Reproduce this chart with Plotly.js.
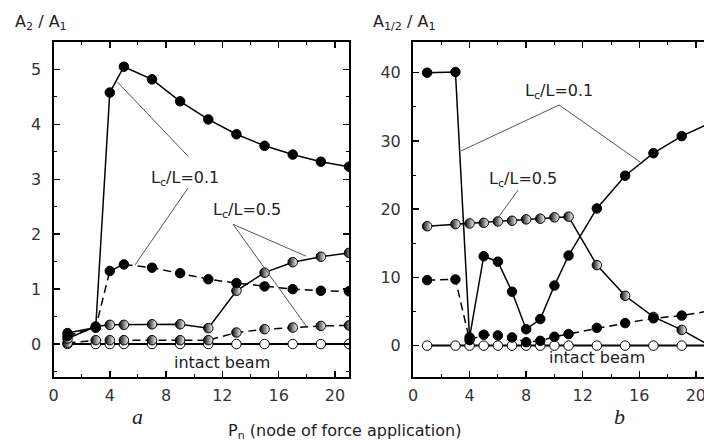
<!DOCTYPE html>
<html>
<head>
<meta charset="utf-8">
<script src="https://cdn.plot.ly/plotly-3.0.1.min.js"></script>
<style>
html,body{margin:0;padding:0;background:#fff;overflow:hidden;width:704px;height:444px;}
#chart{width:712px;height:444px;}
</style>
</head>
<body>
<div id="chart"></div>
<script>
// ---- data ----
const xA = [1, 3, 4, 5, 7, 9, 11, 13, 15, 17, 19, 21];
const a_solid01 = [0.2, 0.3, 4.58, 5.05, 4.82, 4.42, 4.09, 3.82, 3.61, 3.45, 3.32, 3.23];
const a_dash01  = [0.15, 0.3, 1.33, 1.45, 1.39, 1.29, 1.18, 1.11, 1.05, 1.0, 0.97, 0.96];
const a_solid05 = [0.1, 0.32, 0.35, 0.35, 0.36, 0.36, 0.29, 0.97, 1.3, 1.49, 1.59, 1.66];
const a_dash05  = [0.02, 0.07, 0.07, 0.07, 0.07, 0.07, 0.07, 0.21, 0.27, 0.3, 0.33, 0.34];
const a_intact  = [0, 0, 0, 0, 0, 0, 0, 0, 0, 0, 0, 0];

const xB = [1, 3, 4, 5, 6, 7, 8, 9, 10, 11, 13, 15, 17, 19, 21];
const b_solid01 = [40.0, 40.1, 1.2, 13.1, 12.3, 7.9, 2.4, 3.9, 8.8, 13.2, 20.1, 24.9, 28.2, 30.7, 32.6];
const b_dash01  = [9.6, 9.7, 0.8, 1.6, 1.5, 1.2, 0.5, 0.7, 1.3, 1.7, 2.6, 3.3, 4.0, 4.4, 5.1];
const b_solid05 = [17.5, 17.8, 17.9, 18.0, 18.2, 18.3, 18.5, 18.6, 18.8, 18.9, 11.8, 7.3, 4.2, 2.3, 0.0];
const b_intact  = [0, 0, 0, 0, 0, 0, 0, 0, 0, 0, 0, 0, 0, 0, 0];

const labelA = "A<sub>2</sub> / A<sub>1</sub>";
const labelB = "A<sub>1/2</sub> / A<sub>1</sub>";
const labelX = "P<sub>n</sub> (node of force application)";
const lab01 = "L<sub>c</sub>/L=0.1";
const lab05 = "L<sub>c</sub>/L=0.5";
const labIntact = "intact beam";

// ---- styles ----
const filled = {symbol: 'circle', size: 9.5, color: '#000', line: {color: '#000', width: 1}};
const half = {symbol: 'circle', size: 9.5, color: '#000', gradient: {type: 'horizontal', color: '#fff'}, line: {color: '#000', width: 1}};
const open = {symbol: 'circle', size: 9.5, color: '#fff', line: {color: '#000', width: 1}};
const solid = {color: '#000', width: 1.5};
const dashed = {color: '#000', width: 1.5, dash: '8px,5px'};

function tr(x, y, xa, ya, line, marker) {
  return {x: x, y: y, xaxis: xa, yaxis: ya, mode: 'lines+markers', line: line, marker: marker, hoverinfo: 'skip', showlegend: false};
}

const data = [
  tr(xA, a_intact, 'x', 'y', {color: '#000', width: 2}, open),
  tr(xA, a_dash05, 'x', 'y', dashed, half),
  tr(xA, a_solid05, 'x', 'y', solid, half),
  tr(xA, a_dash01, 'x', 'y', dashed, filled),
  tr(xA, a_solid01, 'x', 'y', solid, filled),
  tr(xB, b_intact, 'x2', 'y2', {color: '#000', width: 2}, open),
  tr(xB, b_solid05, 'x2', 'y2', solid, half),
  tr(xB, b_dash01, 'x2', 'y2', dashed, filled),
  tr(xB, b_solid01, 'x2', 'y2', solid, filled)
];

const tickFont = {family: 'DejaVu Sans, Arial, sans-serif', size: 16, color: '#333'};
function xax(domain, anchor) {
  return {domain: domain, anchor: anchor, range: [0, 21], dtick: 4, tick0: 0,
    ticks: 'inside', ticklen: 6, tickwidth: 1.5, tickcolor: '#000',
    showline: true, linewidth: 2, linecolor: '#000', mirror: 'ticks',
    showgrid: false, zeroline: false, tickfont: tickFont, ticklabelstandoff: 3,
    minor: {dtick: 2, ticks: 'inside', ticklen: 3, tickcolor: '#000', tickwidth: 1, showgrid: false}};
}
function yax(domain, anchor, range, dtick, mdtick) {
  return {domain: domain, anchor: anchor, range: range, dtick: dtick, tick0: 0,
    ticks: 'inside', ticklen: 6, tickwidth: 1.5, tickcolor: '#000',
    showline: true, linewidth: 2, linecolor: '#000', mirror: 'ticks',
    showgrid: false, zeroline: false, tickfont: tickFont, ticklabelstandoff: 7,
    minor: {dtick: mdtick, ticks: 'inside', ticklen: 3, tickcolor: '#000', tickwidth: 1, showgrid: false}};
}

const W = 712, H = 444;
const yDom = [1 - 377 / H, 1 - 42 / H];

const annFont = {family: 'DejaVu Sans, Arial, sans-serif', size: 16, color: '#222'};
const ptr = {color: '#555', width: 1};
function seg(xref, yref, x0, y0, x1, y1) {
  return {type: 'line', xref: xref, yref: yref, x0: x0, y0: y0, x1: x1, y1: y1, line: ptr, layer: 'above'};
}
function txt(xref, yref, x, y, text, font, extra) {
  return Object.assign({xref: xref, yref: yref, x: x, y: y, text: text, showarrow: false, font: font || annFont, xanchor: 'center', yanchor: 'middle'}, extra || {});
}

const layout = {
  width: W, height: H,
  margin: {l: 0, r: 0, t: 0, b: 0},
  paper_bgcolor: '#fff', plot_bgcolor: '#fff',
  xaxis: xax([53.5 / W, 349 / W], 'y'),
  yaxis: yax(yDom, 'x', [-0.6, 5.5], 1, 0.5),
  xaxis2: xax([413 / W, 710 / W], 'y2'),
  yaxis2: yax(yDom, 'x2', [-4.6, 44.5], 10, 5),
  shapes: [
    seg('x', 'y', 9.56, 3.42, 4.51, 4.78),
    seg('x', 'y', 9.56, 2.84, 5.79, 1.44),
    seg('x', 'y', 12.76, 2.18, 17.95, 1.60),
    seg('x', 'y', 12.76, 2.18, 17.95, 0.33),
    seg('x2', 'y2', 10.33, 35.27, 3.39, 28.53),
    seg('x2', 'y2', 10.33, 35.27, 16.05, 26.92),
    seg('x2', 'y2', 7.43, 22.81, 5.80, 18.12)
  ],
  annotations: [
    txt('x', 'y', 9.36, 3.02, lab01),
    txt('x', 'y', 13.75, 2.44, lab05),
    txt('x', 'y', 11.95, -0.34, labIntact),
    txt('x2', 'y2', 10.33, 37.2, lab01),
    txt('x2', 'y2', 7.78, 24.4, lab05),
    txt('x2', 'y2', 13.0, -1.7, labIntact),
    txt('paper', 'paper', 13 / W, 1 - 22 / H, labelA, annFont, {xanchor: 'left'}),
    txt('paper', 'paper', 371 / W, 1 - 22 / H, labelB, annFont, {xanchor: 'left'}),
    txt('paper', 'paper', 344 / W, 1 - 431 / H, labelX, annFont),
    txt('paper', 'paper', 137 / W, 1 - 416 / H, 'a', {family: 'Liberation Serif, Times New Roman, serif', size: 22, color: '#222', style: 'italic'}),
    txt('paper', 'paper', 619 / W, 1 - 416 / H, 'b', {family: 'Liberation Serif, Times New Roman, serif', size: 22, color: '#222', style: 'italic'})
  ]
};

Plotly.newPlot('chart', data, layout, {staticPlot: true, displayModeBar: false});
</script>
</body>
</html>
